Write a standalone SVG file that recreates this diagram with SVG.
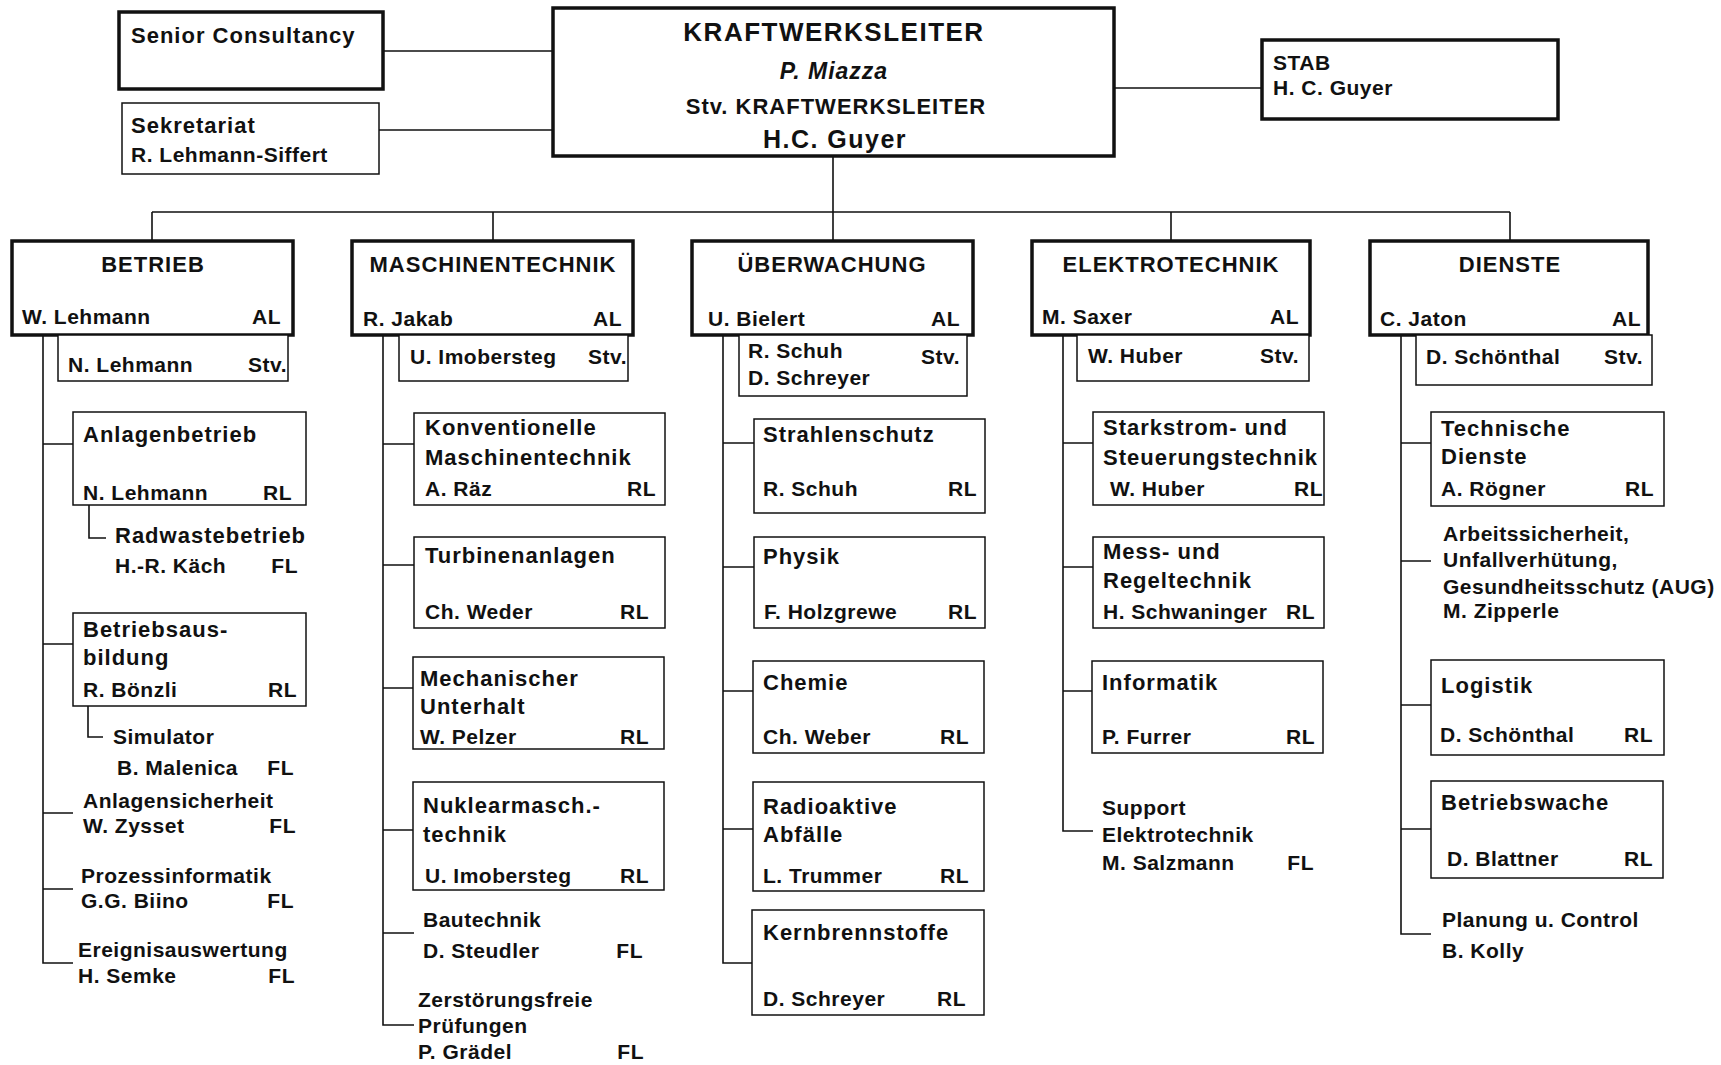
<svg xmlns="http://www.w3.org/2000/svg" width="1721" height="1065" viewBox="0 0 1721 1065">
<style>
text{font-family:"Liberation Sans",Arial,sans-serif;font-weight:bold;font-size:21px;letter-spacing:0.5px;fill:#111}
.t{font-size:22px;letter-spacing:1px}
.e{text-anchor:end}
.m{text-anchor:middle}
.thick{fill:#fff;stroke:#111;stroke-width:3.5}
.thin{fill:#fff;stroke:#111;stroke-width:1.5}
.c{fill:none;stroke:#111;stroke-width:1.6}
</style>
<rect width="1721" height="1065" fill="#fff"/>
<g id="connectors" class="c">
<path d="M383,51H553M379,130H553M1114,88H1262"/>
<path d="M833,156V212M152,212H1510M152,212V241M493,212V241M833,212V241M1171,212V241M1510,212V241"/>
<path d="M43,335V963H73M43,444H73M89,505V538H106M43,644H73M88,706V737H103M43,813H73M43,889H73"/>
<path d="M383,335V1025H414M383,444H414M383,565H414M383,688H413M383,830H413M383,933H414"/>
<path d="M723,335V963H752M723,443H754M723,567H754M723,691H753M723,829H753"/>
<path d="M1063,335V831H1093M1063,443H1093M1063,567H1093M1063,691H1092"/>
<path d="M1401,335V934H1431M1401,443H1431M1401,561H1431M1401,705H1431M1401,829H1431"/>
</g>
<g id="senior"><rect class="thick" x="119" y="12" width="264" height="77"/><text class="t" x="131" y="43">Senior Consultancy</text></g>
<g id="sekretariat"><rect class="thin" x="122" y="103" width="257" height="71"/><text class="t" x="131" y="133">Sekretariat</text><text x="131" y="162">R. Lehmann-Siffert</text></g>
<g id="kraftwerksleiter"><rect class="thick" x="553" y="8" width="561" height="148"/>
<text class="m" x="834" y="41" style="font-size:26px;letter-spacing:1.5px">KRAFTWERKSLEITER</text>
<text class="m" x="834" y="79" style="font-size:23px;letter-spacing:1px;font-style:italic">P. Miazza</text>
<text class="m t" x="836" y="114">Stv. KRAFTWERKSLEITER</text>
<text class="m" x="835" y="148" style="font-size:25px;letter-spacing:1.5px">H.C. Guyer</text></g>
<g id="stab"><rect class="thick" x="1262" y="40" width="296" height="79"/><text x="1273" y="70">STAB</text><text x="1273" y="95">H. C. Guyer</text></g>

<g id="betrieb"><rect class="thick" x="12" y="241" width="281" height="94"/><text class="m t" x="153" y="272">BETRIEB</text><text x="22" y="324">W. Lehmann</text><text class="e" x="281" y="324">AL</text></g>
<g id="betrieb-stv"><rect class="thin" x="58" y="335" width="230" height="46"/><text x="68" y="372">N. Lehmann</text><text class="e" x="287" y="372">Stv.</text></g>
<g id="anlagenbetrieb"><rect class="thin" x="73" y="412" width="233" height="93"/><text class="t" x="83" y="442">Anlagenbetrieb</text><text x="83" y="500">N. Lehmann</text><text class="e" x="292" y="500">RL</text></g>
<g id="radwastebetrieb"><text class="t" x="115" y="543">Radwastebetrieb</text><text x="115" y="573">H.-R. Käch</text><text class="e" x="298" y="573">FL</text></g>
<g id="betriebsausbildung"><rect class="thin" x="73" y="613" width="233" height="93"/><text class="t" x="83" y="637">Betriebsaus-</text><text class="t" x="83" y="665">bildung</text><text x="83" y="697">R. Bönzli</text><text class="e" x="297" y="697">RL</text></g>
<g id="simulator"><text x="113" y="744">Simulator</text><text x="117" y="775">B. Malenica</text><text class="e" x="294" y="775">FL</text></g>
<g id="anlagensicherheit"><text x="83" y="808">Anlagensicherheit</text><text x="83" y="833">W. Zysset</text><text class="e" x="296" y="833">FL</text></g>
<g id="prozessinformatik"><text x="81" y="883">Prozessinformatik</text><text x="81" y="908">G.G. Biino</text><text class="e" x="294" y="908">FL</text></g>
<g id="ereignisauswertung"><text x="78" y="957">Ereignisauswertung</text><text x="78" y="983">H. Semke</text><text class="e" x="295" y="983">FL</text></g>

<g id="maschinentechnik"><rect class="thick" x="352" y="241" width="281" height="94"/><text class="m t" x="493" y="272">MASCHINENTECHNIK</text><text x="363" y="326">R. Jakab</text><text class="e" x="622" y="326">AL</text></g>
<g id="masch-stv"><rect class="thin" x="399" y="335" width="229" height="46"/><text x="410" y="364">U. Imobersteg</text><text class="e" x="627" y="364">Stv.</text></g>
<g id="konventionelle"><rect class="thin" x="414" y="413" width="251" height="92"/><text class="t" x="425" y="435">Konventionelle</text><text class="t" x="425" y="465">Maschinentechnik</text><text x="425" y="496">A. Räz</text><text class="e" x="656" y="496">RL</text></g>
<g id="turbinenanlagen"><rect class="thin" x="414" y="537" width="251" height="91"/><text class="t" x="425" y="563">Turbinenanlagen</text><text x="425" y="619">Ch. Weder</text><text class="e" x="649" y="619">RL</text></g>
<g id="mech-unterhalt"><rect class="thin" x="413" y="657" width="251" height="92"/><text class="t" x="420" y="686">Mechanischer</text><text class="t" x="420" y="714">Unterhalt</text><text x="420" y="744">W. Pelzer</text><text class="e" x="649" y="744">RL</text></g>
<g id="nuklearmasch"><rect class="thin" x="413" y="782" width="251" height="108"/><text class="t" x="423" y="813">Nuklearmasch.-</text><text class="t" x="423" y="842">technik</text><text x="425" y="883">U. Imobersteg</text><text class="e" x="649" y="883">RL</text></g>
<g id="bautechnik"><text x="423" y="927">Bautechnik</text><text x="423" y="958">D. Steudler</text><text class="e" x="643" y="958">FL</text></g>
<g id="zfp"><text x="418" y="1007">Zerstörungsfreie</text><text x="418" y="1033">Prüfungen</text><text x="418" y="1059">P. Grädel</text><text class="e" x="644" y="1059">FL</text></g>

<g id="ueberwachung"><rect class="thick" x="692" y="241" width="281" height="94"/><text class="m t" x="832" y="272">ÜBERWACHUNG</text><text x="708" y="326">U. Bielert</text><text class="e" x="960" y="326">AL</text></g>
<g id="ueberw-stv"><rect class="thin" x="739" y="335" width="228" height="61"/><text x="748" y="358">R. Schuh</text><text x="748" y="385">D. Schreyer</text><text class="e" x="960" y="364">Stv.</text></g>
<g id="strahlenschutz"><rect class="thin" x="754" y="419" width="231" height="94"/><text class="t" x="763" y="442">Strahlenschutz</text><text x="763" y="496">R. Schuh</text><text class="e" x="977" y="496">RL</text></g>
<g id="physik"><rect class="thin" x="754" y="537" width="231" height="91"/><text class="t" x="763" y="564">Physik</text><text x="764" y="619">F. Holzgrewe</text><text class="e" x="977" y="619">RL</text></g>
<g id="chemie"><rect class="thin" x="753" y="661" width="231" height="92"/><text class="t" x="763" y="690">Chemie</text><text x="763" y="744">Ch. Weber</text><text class="e" x="969" y="744">RL</text></g>
<g id="radioaktive"><rect class="thin" x="753" y="782" width="231" height="109"/><text class="t" x="763" y="814">Radioaktive</text><text class="t" x="763" y="842">Abfälle</text><text x="763" y="883">L. Trummer</text><text class="e" x="969" y="883">RL</text></g>
<g id="kernbrennstoffe"><rect class="thin" x="752" y="910" width="232" height="105"/><text class="t" x="763" y="940">Kernbrennstoffe</text><text x="763" y="1006">D. Schreyer</text><text class="e" x="966" y="1006">RL</text></g>

<g id="elektrotechnik"><rect class="thick" x="1032" y="241" width="278" height="94"/><text class="m t" x="1171" y="272">ELEKTROTECHNIK</text><text x="1042" y="324">M. Saxer</text><text class="e" x="1299" y="324">AL</text></g>
<g id="elektro-stv"><rect class="thin" x="1077" y="335" width="232" height="46"/><text x="1088" y="363">W. Huber</text><text class="e" x="1299" y="363">Stv.</text></g>
<g id="starkstrom"><rect class="thin" x="1093" y="412" width="231" height="93"/><text class="t" x="1103" y="435">Starkstrom- und</text><text class="t" x="1103" y="465">Steuerungstechnik</text><text x="1110" y="496">W. Huber</text><text class="e" x="1323" y="496">RL</text></g>
<g id="messregel"><rect class="thin" x="1093" y="537" width="231" height="91"/><text class="t" x="1103" y="559">Mess- und</text><text class="t" x="1103" y="588">Regeltechnik</text><text x="1103" y="619">H. Schwaninger</text><text class="e" x="1315" y="619">RL</text></g>
<g id="informatik"><rect class="thin" x="1092" y="661" width="231" height="92"/><text class="t" x="1102" y="690">Informatik</text><text x="1102" y="744">P. Furrer</text><text class="e" x="1315" y="744">RL</text></g>
<g id="support"><text x="1102" y="815">Support</text><text x="1102" y="842">Elektrotechnik</text><text x="1102" y="870">M. Salzmann</text><text class="e" x="1314" y="870">FL</text></g>

<g id="dienste"><rect class="thick" x="1370" y="241" width="278" height="94"/><text class="m t" x="1510" y="272">DIENSTE</text><text x="1380" y="326">C. Jaton</text><text class="e" x="1641" y="326">AL</text></g>
<g id="dienste-stv"><rect class="thin" x="1416" y="335" width="236" height="50"/><text x="1426" y="364">D. Schönthal</text><text class="e" x="1643" y="364">Stv.</text></g>
<g id="technische"><rect class="thin" x="1431" y="412" width="233" height="94"/><text class="t" x="1441" y="436">Technische</text><text class="t" x="1441" y="464">Dienste</text><text x="1441" y="496">A. Rögner</text><text class="e" x="1654" y="496">RL</text></g>
<g id="aug"><text x="1443" y="541">Arbeitssicherheit,</text><text x="1443" y="567">Unfallverhütung,</text><text x="1443" y="594">Gesundheitsschutz (AUG)</text><text x="1443" y="618">M. Zipperle</text></g>
<g id="logistik"><rect class="thin" x="1431" y="660" width="233" height="95"/><text class="t" x="1441" y="693">Logistik</text><text x="1440" y="742">D. Schönthal</text><text class="e" x="1653" y="742">RL</text></g>
<g id="betriebswache"><rect class="thin" x="1431" y="781" width="232" height="97"/><text class="t" x="1441" y="810">Betriebswache</text><text x="1447" y="866">D. Blattner</text><text class="e" x="1653" y="866">RL</text></g>
<g id="planung"><text x="1442" y="927">Planung u. Control</text><text x="1442" y="958">B. Kolly</text></g>
</svg>
